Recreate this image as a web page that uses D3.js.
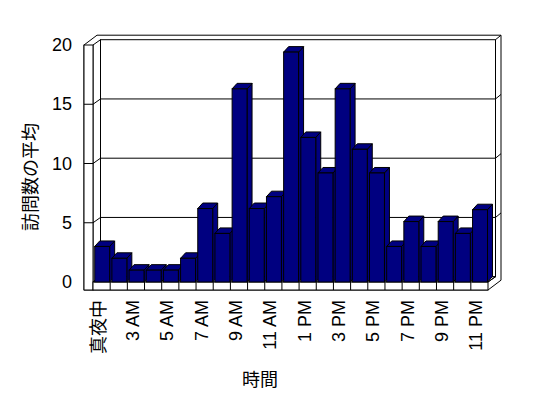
<!DOCTYPE html>
<html><head><meta charset="utf-8">
<script src="https://cdn.jsdelivr.net/npm/d3@7"></script>
<style>
html,body{margin:0;padding:0;background:#fff;}
svg{display:block;}
text{fill:#000;}
</style></head>
<body>
<script>
// ---- data ----
const categories = ["真夜中","1 AM","3 AM","4 AM","5 AM","6 AM","7 AM","8 AM","9 AM","10 AM","11 AM","12 PM",
  "1 PM","2 PM","3 PM","4 PM","5 PM","6 PM","7 PM","8 PM","9 PM","10 PM","11 PM"];
const values = [3,2,1,1,1,2,6.2,4.1,16.3,6.2,7.2,19.4,12.2,9.2,16.3,11.2,9.2,3,5.1,3,5.1,4.1,6.1];
const tickLabels = ["真夜中","3 AM","5 AM","7 AM","9 AM","11 AM","1 PM","3 PM","5 PM","7 PM","9 PM","11 PM"];
const yTicks = [0,5,10,15,20];
const yTitle = "訪問数の平均";
const xTitle = "時間";

// ---- layout ----
const W = 548, H = 398;
const svg = d3.select("body").append("svg").attr("width", W).attr("height", H);

const x = d3.scaleBand().domain(categories).range([93, 488]);
const y = d3.scaleLinear().domain([0, 20]).range([282, 45]);

const D = [7.5, -5.3];   // wall depth offset
const T = [5.5, -4.5];   // back wall thickness
const B = [5, -5.5];     // bar depth offset
const wallT = 9, floorT = 8;

const [X0, X1] = x.range();
const Y0 = y(0), Y1 = y(20);
const bx0 = X0 + D[0], bx1 = X1 + D[0], by0 = Y0 + D[1], by1 = Y1 + D[1];
const outerL = X0 - wallT, outerB = Y0 + floorT;
const line = d3.line();
const g = svg.append("g").attr("fill", "none").attr("stroke", "#000").attr("stroke-width", 1);

// silhouette of the whole box
g.append("path").attr("fill", "#fff").attr("d", line([
  [outerL, outerB], [outerL, Y1], [outerL + D[0] + T[0], Y1 + D[1] + T[1]],
  [bx1 + T[0], by1 + T[1]], [bx1 + T[0], outerB + D[1] + T[1]], [X1, outerB]
]) + "Z");
// back wall face
g.append("rect").attr("fill", "#fff").attr("x", bx0).attr("y", by1).attr("width", bx1 - bx0).attr("height", by0 - by1);
// back wall top-right corner edge
g.append("path").attr("d", line([[bx1, by1], [bx1 + T[0], by1 + T[1]]]));
// left wall inner face
g.append("path").attr("fill", "#fff").attr("d", line([[X0, Y1], [bx0, by1], [bx0, by0], [X0, Y0]]) + "Z");
// left wall front face
g.append("rect").attr("fill", "#fff").attr("x", outerL).attr("y", Y1).attr("width", wallT).attr("height", outerB - Y1);
// floor top face
g.append("path").attr("fill", "#fff").attr("d", line([[X0, Y0], [X1, Y0], [bx1, by0], [bx0, by0]]) + "Z");
// floor front face
g.append("rect").attr("fill", "#fff").attr("x", X0).attr("y", Y0).attr("width", X1 - X0).attr("height", floorT);
// floor right edge
g.append("path").attr("d", line([[X1, Y0], [bx1, by0]]));
// category dividers on floor front
g.selectAll("line.div").data(categories.slice(1)).join("line")
  .attr("x1", d => x(d)).attr("x2", d => x(d)).attr("y1", Y0).attr("y2", outerB);

// gridlines
yTicks.filter(v => v > 0 && v < 20).forEach(v => {
  const yf = y(v), yb = yf + D[1];
  g.append("path").attr("d", line([[outerL, yf], [X0, yf], [bx0, yb], [bx1, yb], [bx1 + T[0], yb + T[1]]]));
});

// bars
const bw = x.bandwidth() * 0.87, boff = x.bandwidth() * 0.1;
const bars = svg.append("g").attr("stroke", "#000").attr("stroke-width", 1).attr("fill", "#000080");
categories.forEach((c, i) => {
  const bx = x(c) + boff, yt = y(values[i]);
  const gb = bars.append("g");
  gb.append("path").attr("d", line([[bx + bw, yt], [bx + bw + B[0], yt + B[1]], [bx + bw + B[0], Y0 + B[1]], [bx + bw, Y0]]) + "Z");
  gb.append("path").attr("d", line([[bx, yt], [bx + B[0], yt + B[1]], [bx + bw + B[0], yt + B[1]], [bx + bw, yt]]) + "Z");
  gb.append("rect").attr("x", bx).attr("y", yt).attr("width", bw).attr("height", Y0 - yt);
});

// y tick labels
svg.append("g").selectAll("text").data(yTicks).join("text")
  .attr("x", 72).attr("y", d => y(d)).attr("text-anchor", "end").attr("dominant-baseline", "central")
  .attr("font-family", "Liberation Sans, Arial, sans-serif").attr("font-size", 18).text(d => d);

// x tick labels (every other category)
svg.append("g").selectAll("text").data(tickLabels).join("text")
  .attr("transform", (d, i) => `translate(${x(categories[i * 2]) + x.bandwidth() / 2 - 3},300) rotate(-90)`)
  .attr("text-anchor", "end").attr("dominant-baseline", "central")
  .attr("font-family", "Liberation Sans, Noto Sans CJK JP, sans-serif").attr("font-size", 18).text(d => d);

// axis titles
svg.append("text").attr("transform", "translate(29,177) rotate(-90)").attr("text-anchor", "middle")
  .attr("dominant-baseline", "central").attr("font-family", "Noto Sans CJK JP, sans-serif").attr("font-size", 18).text(yTitle);
svg.append("text").attr("x", 260).attr("y", 378).attr("text-anchor", "middle")
  .attr("dominant-baseline", "central").attr("font-family", "Noto Sans CJK JP, sans-serif").attr("font-size", 18).text(xTitle);
</script>
</body></html>
